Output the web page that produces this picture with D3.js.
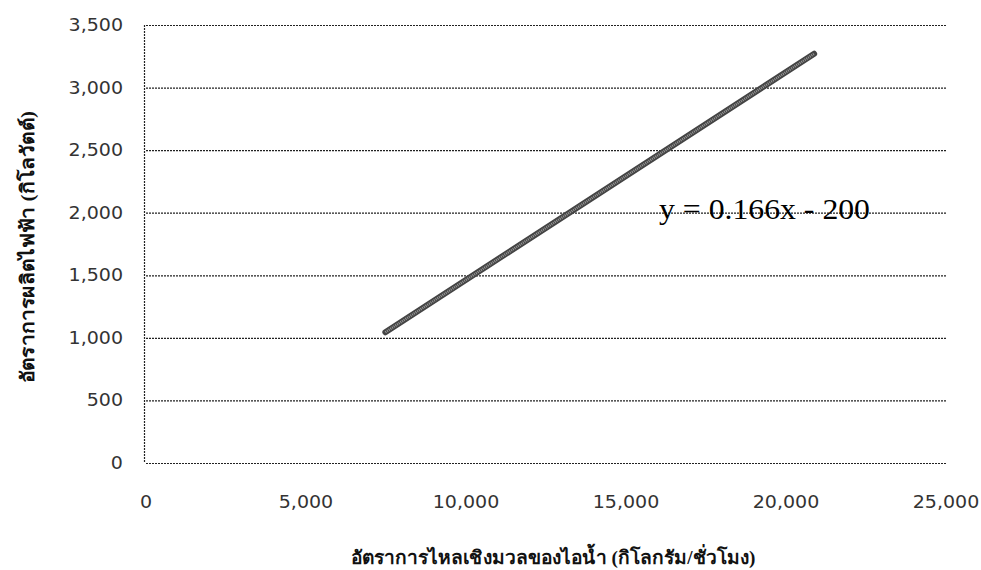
<!DOCTYPE html>
<html><head><meta charset="utf-8">
<script src="https://cdn.jsdelivr.net/npm/d3@7"></script>
<style>body{margin:0;background:#fff}</style>
</head><body>
<svg id="c" width="981" height="570"></svg>
<script>
const xTicks = [0, 5000, 10000, 15000, 20000, 25000];
const yTicks = [0, 500, 1000, 1500, 2000, 2500, 3000, 3500];
const lineX = [7480, 20880];
const lineY = [1045, 3270];
const equation = "y = 0.166x - 200";
const xTitle = "อัตราการไหลเชิงมวลของไอน้ำ (กิโลกรัม/ชั่วโมง)";
const yTitle = "อัตราการผลิตไฟฟ้า (กิโลวัตต์)";

const svg = d3.select("#c");
const L = 146, R = 946, T = 25, B = 463;
const x = d3.scaleLinear().domain([0, 25000]).range([L, R]);
const y = d3.scaleLinear().domain([0, 3500]).range([B, T]);
const fmt = d3.format(",");

// gridlines
svg.append("g").selectAll("line").data(yTicks).join("line")
  .attr("x1", L).attr("x2", R)
  .attr("y1", d => y(d) + 0.5).attr("y2", d => y(d) + 0.5)
  .attr("stroke", "#222").attr("stroke-width", 1.2)
  .attr("stroke-dasharray", "2,1");
// left axis line
svg.append("line").attr("x1", L - 1.5).attr("x2", L - 1.5).attr("y1", T).attr("y2", B)
  .attr("stroke", "#222").attr("stroke-width", 1.2).attr("stroke-dasharray", "2,1");

const tickFont = "DejaVu Sans, Verdana, sans-serif";
// y tick labels
svg.append("g").selectAll("text").data(yTicks).join("text")
  .attr("x", 123).attr("y", d => y(d) + 6)
  .attr("text-anchor", "end")
  .attr("font-family", tickFont).attr("font-size", 17)
  .attr("transform", d => `translate(123,0) scale(1.12,1) translate(-123,0)`)
  .attr("fill", "#333").text(d => fmt(d));
// x tick labels
svg.append("g").selectAll("text").data(xTicks).join("text")
  .attr("x", d => x(d)).attr("y", 508)
  .attr("text-anchor", "middle")
  .attr("font-family", tickFont).attr("font-size", 17)
  .attr("transform", d => `translate(${x(d)},0) scale(1.12,1) translate(${-x(d)},0)`)
  .attr("fill", "#333").text(d => fmt(d));

// line
const pts = lineX.map((v, i) => [v, lineY[i]]);
const lg = d3.line().x(d => x(d[0])).y(d => y(d[1]));
svg.append("path").attr("d", lg(pts)).attr("stroke", "#444").attr("stroke-width", 6)
  .attr("fill", "none").attr("stroke-linecap", "round");
svg.append("path").attr("d", lg(pts)).attr("stroke", "#9a9a9a").attr("stroke-width", 2.5)
  .attr("fill", "none").attr("stroke-dasharray", "1,1");

// equation
svg.append("text").attr("x", 659).attr("y", 219)
  .attr("font-family", "Liberation Serif, Times New Roman, serif").attr("font-size", 29)
  .attr("textLength", 211).attr("lengthAdjust", "spacingAndGlyphs")
  .attr("fill", "#000").text(equation);

// axis titles
svg.append("text").attr("x", 553).attr("y", 564).attr("text-anchor", "middle")
  .attr("font-family", "Liberation Serif, serif").attr("font-weight", "bold").attr("font-size", 19)
  .attr("textLength", 405).attr("lengthAdjust", "spacingAndGlyphs")
  .attr("fill", "#111").text(xTitle);
svg.append("text").attr("transform", "translate(34,247) rotate(-90)").attr("text-anchor", "middle")
  .attr("font-family", "Liberation Serif, serif").attr("font-weight", "bold").attr("font-size", 19)
  .attr("textLength", 272).attr("lengthAdjust", "spacingAndGlyphs")
  .attr("fill", "#111").text(yTitle);
</script>
</body></html>
